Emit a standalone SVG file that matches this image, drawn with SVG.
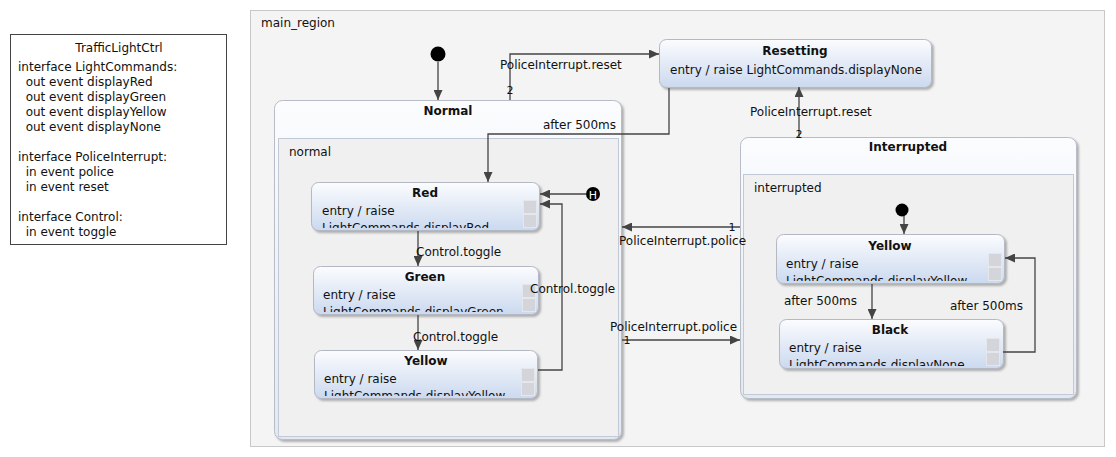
<svg xmlns="http://www.w3.org/2000/svg" width="1116" height="457" viewBox="0 0 1116 457">
<style>
text{font-family:"DejaVu Sans","Liberation Sans",sans-serif;font-size:12px;fill:#111}
.t{font-weight:bold;text-anchor:middle}
.s{font-size:11px;text-anchor:middle}
.st{fill:url(#sg);stroke:#b4b8c2;stroke-width:1;filter:url(#sh)}
.cs{fill:url(#cg);stroke:#b8bcc6;stroke-width:1;filter:url(#sh)}
.rg{fill:#f0f0f0;stroke:#c2c9d6;stroke-width:1}
.sq{fill:#d3d5da;stroke:#e6e7ea;stroke-width:1}
.c{fill:none;stroke:#444;stroke-width:1.3;marker-end:url(#ar)}
</style>
<defs>
<linearGradient id="sg" x1="0" y1="0" x2="0" y2="1"><stop offset="0" stop-color="#fbfcfe"/><stop offset="1" stop-color="#cbd9ef"/></linearGradient>
<linearGradient id="cg" x1="0" y1="0" x2="0" y2="1"><stop offset="0" stop-color="#fbfcfe"/><stop offset="1" stop-color="#e2e9f4"/></linearGradient>
<filter id="sh" x="-5%" y="-5%" width="110%" height="115%"><feDropShadow dx="2" dy="2" stdDeviation="1.2" flood-color="#777" flood-opacity="0.55"/></filter>
<marker id="ar" markerUnits="userSpaceOnUse" markerWidth="11" markerHeight="9" refX="10" refY="4.5" orient="auto"><path d="M0,0 L10,4.5 L0,9 z" fill="#444"/></marker>
<clipPath id="cRed"><rect x="311" y="182" width="228" height="46"/></clipPath>
<clipPath id="cGreen"><rect x="313" y="266" width="225" height="46"/></clipPath>
<clipPath id="cYellow"><rect x="314" y="350" width="223" height="46"/></clipPath>
<clipPath id="cIY"><rect x="776" y="234" width="228" height="47"/></clipPath>
<clipPath id="cBlack"><rect x="779" y="319" width="224" height="47"/></clipPath>
</defs>
<rect width="1116" height="457" fill="#fff"/>

<g id="interface">
<rect x="10.5" y="34.5" width="216" height="210" fill="#fff" stroke="#444"/>
<text x="119" y="52" style="text-anchor:middle">TrafficLightCtrl</text>
<text x="18" y="71">interface LightCommands:</text>
<text x="18" y="86" xml:space="preserve">  out event displayRed</text>
<text x="18" y="101" xml:space="preserve">  out event displayGreen</text>
<text x="18" y="116" xml:space="preserve">  out event displayYellow</text>
<text x="18" y="131" xml:space="preserve">  out event displayNone</text>
<text x="18" y="161">interface PoliceInterrupt:</text>
<text x="18" y="176" xml:space="preserve">  in event police</text>
<text x="18" y="191" xml:space="preserve">  in event reset</text>
<text x="18" y="221">interface Control:</text>
<text x="18" y="236" xml:space="preserve">  in event toggle</text>
</g>

<g id="main_region">
<rect x="250.5" y="10.5" width="854" height="436" fill="#f4f4f4" stroke="#c8c8c8"/>
<text x="261" y="27">main_region</text>
</g>

<g id="initial_main"><circle cx="438" cy="54" r="7.5" fill="#000"/></g>

<g id="Normal">
<rect class="cs" x="274.5" y="100.5" width="347" height="339" rx="8"/>
<text class="t" x="448" y="115">Normal</text>
<rect class="rg" x="278.5" y="138.5" width="340" height="298"/>
<text x="289" y="156">normal</text>
</g>

<g id="Red">
<rect class="st" x="311.5" y="182.5" width="228" height="48" rx="7"/>
<text class="t" x="425" y="197">Red</text>
<g clip-path="url(#cRed)"><text x="322" y="215">entry / raise</text><text x="322" y="232">LightCommands.displayRed</text></g>
<rect class="sq" x="523.5" y="200.5" width="13" height="13"/><rect class="sq" x="523.5" y="214.5" width="13" height="13"/>
</g>

<g id="Green">
<rect class="st" x="313.5" y="266.5" width="225" height="48" rx="7"/>
<text class="t" x="425" y="281">Green</text>
<g clip-path="url(#cGreen)"><text x="323" y="299">entry / raise</text><text x="323" y="316">LightCommands.displayGreen</text></g>
<rect class="sq" x="522.5" y="284.5" width="13" height="13"/><rect class="sq" x="522.5" y="298.5" width="13" height="13"/>
</g>

<g id="Yellow">
<rect class="st" x="314.5" y="350.5" width="223" height="48" rx="7"/>
<text class="t" x="426" y="365">Yellow</text>
<g clip-path="url(#cYellow)"><text x="324" y="383">entry / raise</text><text x="324" y="400">LightCommands.displayYellow</text></g>
<rect class="sq" x="521.5" y="368.5" width="13" height="13"/><rect class="sq" x="521.5" y="382.5" width="13" height="13"/>
</g>

<g id="history"><circle cx="593" cy="194" r="7" fill="#000"/><text x="593" y="198.5" style="fill:#fff;font-size:11px;text-anchor:middle">H</text></g>

<g id="Resetting">
<rect class="st" x="659.5" y="39.5" width="272" height="48" rx="7"/>
<text class="t" x="795" y="55">Resetting</text>
<text x="670" y="74">entry / raise LightCommands.displayNone</text>
</g>

<g id="Interrupted">
<rect class="cs" x="740.5" y="137.5" width="336" height="261" rx="8"/>
<text class="t" x="908" y="151">Interrupted</text>
<rect class="rg" x="743.5" y="174.5" width="330" height="220"/>
<text x="754" y="192">interrupted</text>
</g>

<g id="initial_interrupted"><circle cx="902" cy="210" r="6.5" fill="#000"/></g>

<g id="IYellow">
<rect class="st" x="776.5" y="234.5" width="228" height="49" rx="7"/>
<text class="t" x="890" y="250">Yellow</text>
<g clip-path="url(#cIY)"><text x="786" y="268">entry / raise</text><text x="786" y="285">LightCommands.displayYellow</text></g>
<rect class="sq" x="988.5" y="253.5" width="13" height="13"/><rect class="sq" x="988.5" y="267.5" width="13" height="13"/>
</g>

<g id="Black">
<rect class="st" x="779.5" y="319.5" width="224" height="49" rx="7"/>
<text class="t" x="890" y="334">Black</text>
<g clip-path="url(#cBlack)"><text x="789" y="352">entry / raise</text><text x="789" y="369">LightCommands.displayNone</text></g>
<rect class="sq" x="986.5" y="338.5" width="13" height="13"/><rect class="sq" x="986.5" y="352.5" width="13" height="13"/>
</g>

<g id="connectors">
<path class="c" d="M438,62 V100"/>
<path class="c" d="M418,231 V266"/>
<text x="416" y="256">Control.toggle</text>
<path class="c" d="M418,315 V350"/>
<text x="413" y="341">Control.toggle</text>
<path class="c" d="M538,370 H562 V204 H540"/>
<text x="530" y="293">Control.toggle</text>
<path class="c" d="M586,194 H540"/>
<path class="c" d="M669,88 V134 H488 V182"/>
<text x="616" y="129" style="text-anchor:end">after 500ms</text>
<path class="c" d="M510,100 V54 H659"/>
<text x="500" y="69">PoliceInterrupt.reset</text>
<text class="s" x="510" y="94">2</text>
<path class="c" d="M799,137 V87"/>
<text x="750" y="116">PoliceInterrupt.reset</text>
<text class="s" x="799" y="138">2</text>
<path class="c" d="M740,227 H622"/>
<text class="s" x="732" y="231">1</text>
<text x="619" y="245">PoliceInterrupt.police</text>
<path class="c" d="M622,340 H740"/>
<text class="s" x="627" y="344">1</text>
<text x="610" y="331">PoliceInterrupt.police</text>
<path class="c" d="M904,216 V234"/>
<path class="c" d="M872,284 V319"/>
<text x="784" y="305">after 500ms</text>
<path class="c" d="M1003,352 H1035 V258 H1005"/>
<text x="950" y="310">after 500ms</text>
</g>
</svg>
